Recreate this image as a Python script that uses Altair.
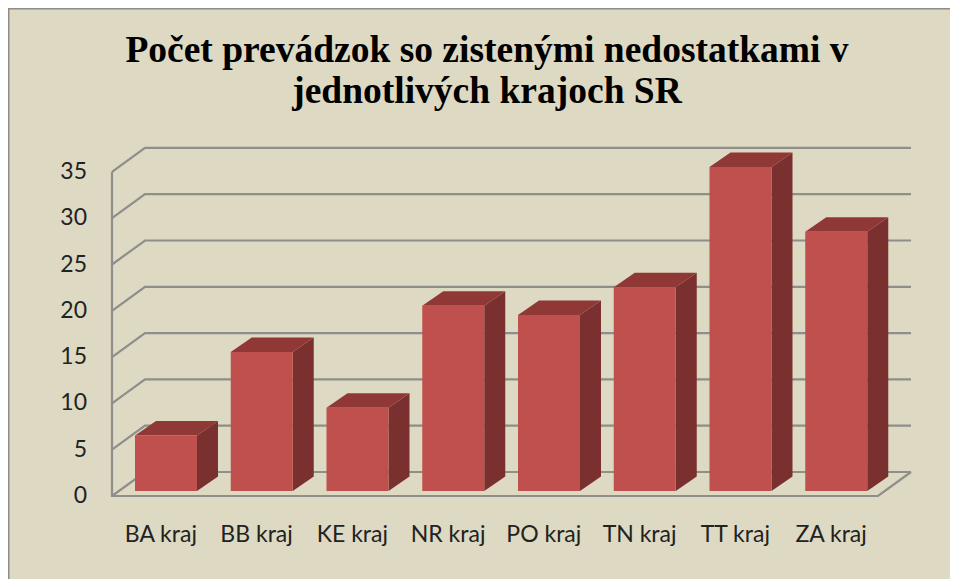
import altair as alt
import pandas as pd

categories = ["BA kraj", "BB kraj", "KE kraj", "NR kraj", "PO kraj", "TN kraj", "TT kraj", "ZA kraj"]
values = [6, 15, 9, 20, 19, 22, 35, 28]
y_ticks = [0, 5, 10, 15, 20, 25, 30, 35]
title_lines = ["Počet prevádzok so zistenými nedostatkami v", "jednotlivých krajoch SR"]

FRONT, SIDE, TOP = "#C0504D", "#7A302E", "#903836"
BG, GRID = "#DDD9C3", "#8E8E8A"

W, H = 942, 571
SLOT, UNIT = 95.75, 9.26      # pixels per category slot / per value unit
X0, Y0 = 112, 496             # page position of origin
xdom = [(8 - X0) / SLOT, (950 - X0) / SLOT]
ydom = [(Y0 - 579) / UNIT, (Y0 - 8) / UNIT]
xs = alt.Scale(domain=xdom, range=[0, W], nice=False, zero=False)
ys = alt.Scale(domain=ydom, range=[H, 0], nice=False, zero=False)

wall_dx, wall_dy = 33 / SLOT, 24 / UNIT
bar_off, bar_w = 23 / SLOT, 62 / SLOT
bar_dx, bar_dy = 21 / SLOT, 14.5 / UNIT
base = 5 / UNIT
n = len(categories)

X = alt.X("x:Q", scale=xs, axis=None)
Y = alt.Y("y:Q", scale=ys, axis=None)

# walls
grid_rows = []
for v in y_ticks:
    grid_rows += [
        {"g": v, "o": 0, "x": 0, "y": v},
        {"g": v, "o": 1, "x": wall_dx, "y": v + wall_dy},
        {"g": v, "o": 2, "x": n + wall_dx, "y": v + wall_dy},
    ]
grid_rows += [{"g": -1, "o": 0, "x": 0, "y": 35}, {"g": -1, "o": 1, "x": 0, "y": 0},
              {"g": -1, "o": 2, "x": n, "y": 0}, {"g": -1, "o": 3, "x": n + wall_dx, "y": wall_dy}]
grid = alt.Chart(pd.DataFrame(grid_rows)).mark_line(color=GRID, strokeWidth=2.2).encode(
    x=X, y=Y, detail="g:N", order="o:Q")

# bars
front_rows, side_rows, top_rows = [], [], []
for i, v in enumerate(values):
    a = i + bar_off
    b = a + bar_w
    top = base + v
    front_rows.append({"x": a, "x2": b, "y": base, "y2": top})
    side_rows += [{"g": i, "x": b, "y": base, "y2": top},
                  {"g": i, "x": b + bar_dx, "y": base + bar_dy, "y2": top + bar_dy}]
    top_rows += [{"g": i, "x": a, "y": top, "y2": top},
                 {"g": i, "x": a + bar_dx, "y": top, "y2": top + bar_dy},
                 {"g": i, "x": b, "y": top, "y2": top + bar_dy},
                 {"g": i, "x": b + bar_dx, "y": top + bar_dy, "y2": top + bar_dy}]

side = alt.Chart(pd.DataFrame(side_rows)).mark_area(color=SIDE).encode(x=X, y=Y, y2="y2:Q", detail="g:N")
topf = alt.Chart(pd.DataFrame(top_rows)).mark_area(color=TOP).encode(x=X, y=Y, y2="y2:Q", detail="g:N")
front = alt.Chart(pd.DataFrame(front_rows)).mark_rect(color=FRONT).encode(x=X, x2="x2:Q", y=Y, y2="y2:Q")

# border
border_v = alt.Chart(pd.DataFrame({"x": [xdom[0]], "y": [ydom[0]], "y2": [ydom[1]]})).mark_rule(
    color="#8C8C8C", strokeWidth=3).encode(x=X, y=Y, y2="y2:Q")
border_h = alt.Chart(pd.DataFrame({"x": [xdom[0]], "x2": [xdom[1]], "y": [ydom[1]]})).mark_rule(
    color="#8C8C8C", strokeWidth=3).encode(x=X, x2="x2:Q", y=Y)

# text
ylab = alt.Chart(pd.DataFrame({"x": [(87 - X0) / SLOT] * n, "y": y_ticks, "t": [str(v) for v in y_ticks]})).mark_text(
    align="right", baseline="middle", font="Lato", fontSize=23, color="#222222").encode(x=X, y=Y, text="t:N")
xlab = alt.Chart(pd.DataFrame({"x": [i + 0.51 for i in range(n)], "y": [(Y0 - 535) / UNIT] * n, "t": categories})).mark_text(
    align="center", baseline="middle", font="Lato", fontSize=23, color="#222222").encode(x=X, y=Y, text="t:N")
ttl = alt.Chart(pd.DataFrame({"x": [(487 - X0) / SLOT] * 2, "y": [(Y0 - 61.5) / UNIT, (Y0 - 103) / UNIT], "t": title_lines})).mark_text(
    align="center", baseline="alphabetic", font="Liberation Serif", fontWeight="bold", fontSize=37.5, color="#000000").encode(x=X, y=Y, text="t:N")

chart = alt.layer(grid, side, topf, front, border_v, border_h, ylab, xlab, ttl).properties(
    width=W, height=H, background=BG, padding=0,
    autosize=alt.AutoSizeParams(type="none"),
).configure_view(stroke=None)

chart.save("out.html", embed_options={"renderer": "svg", "actions": False})
